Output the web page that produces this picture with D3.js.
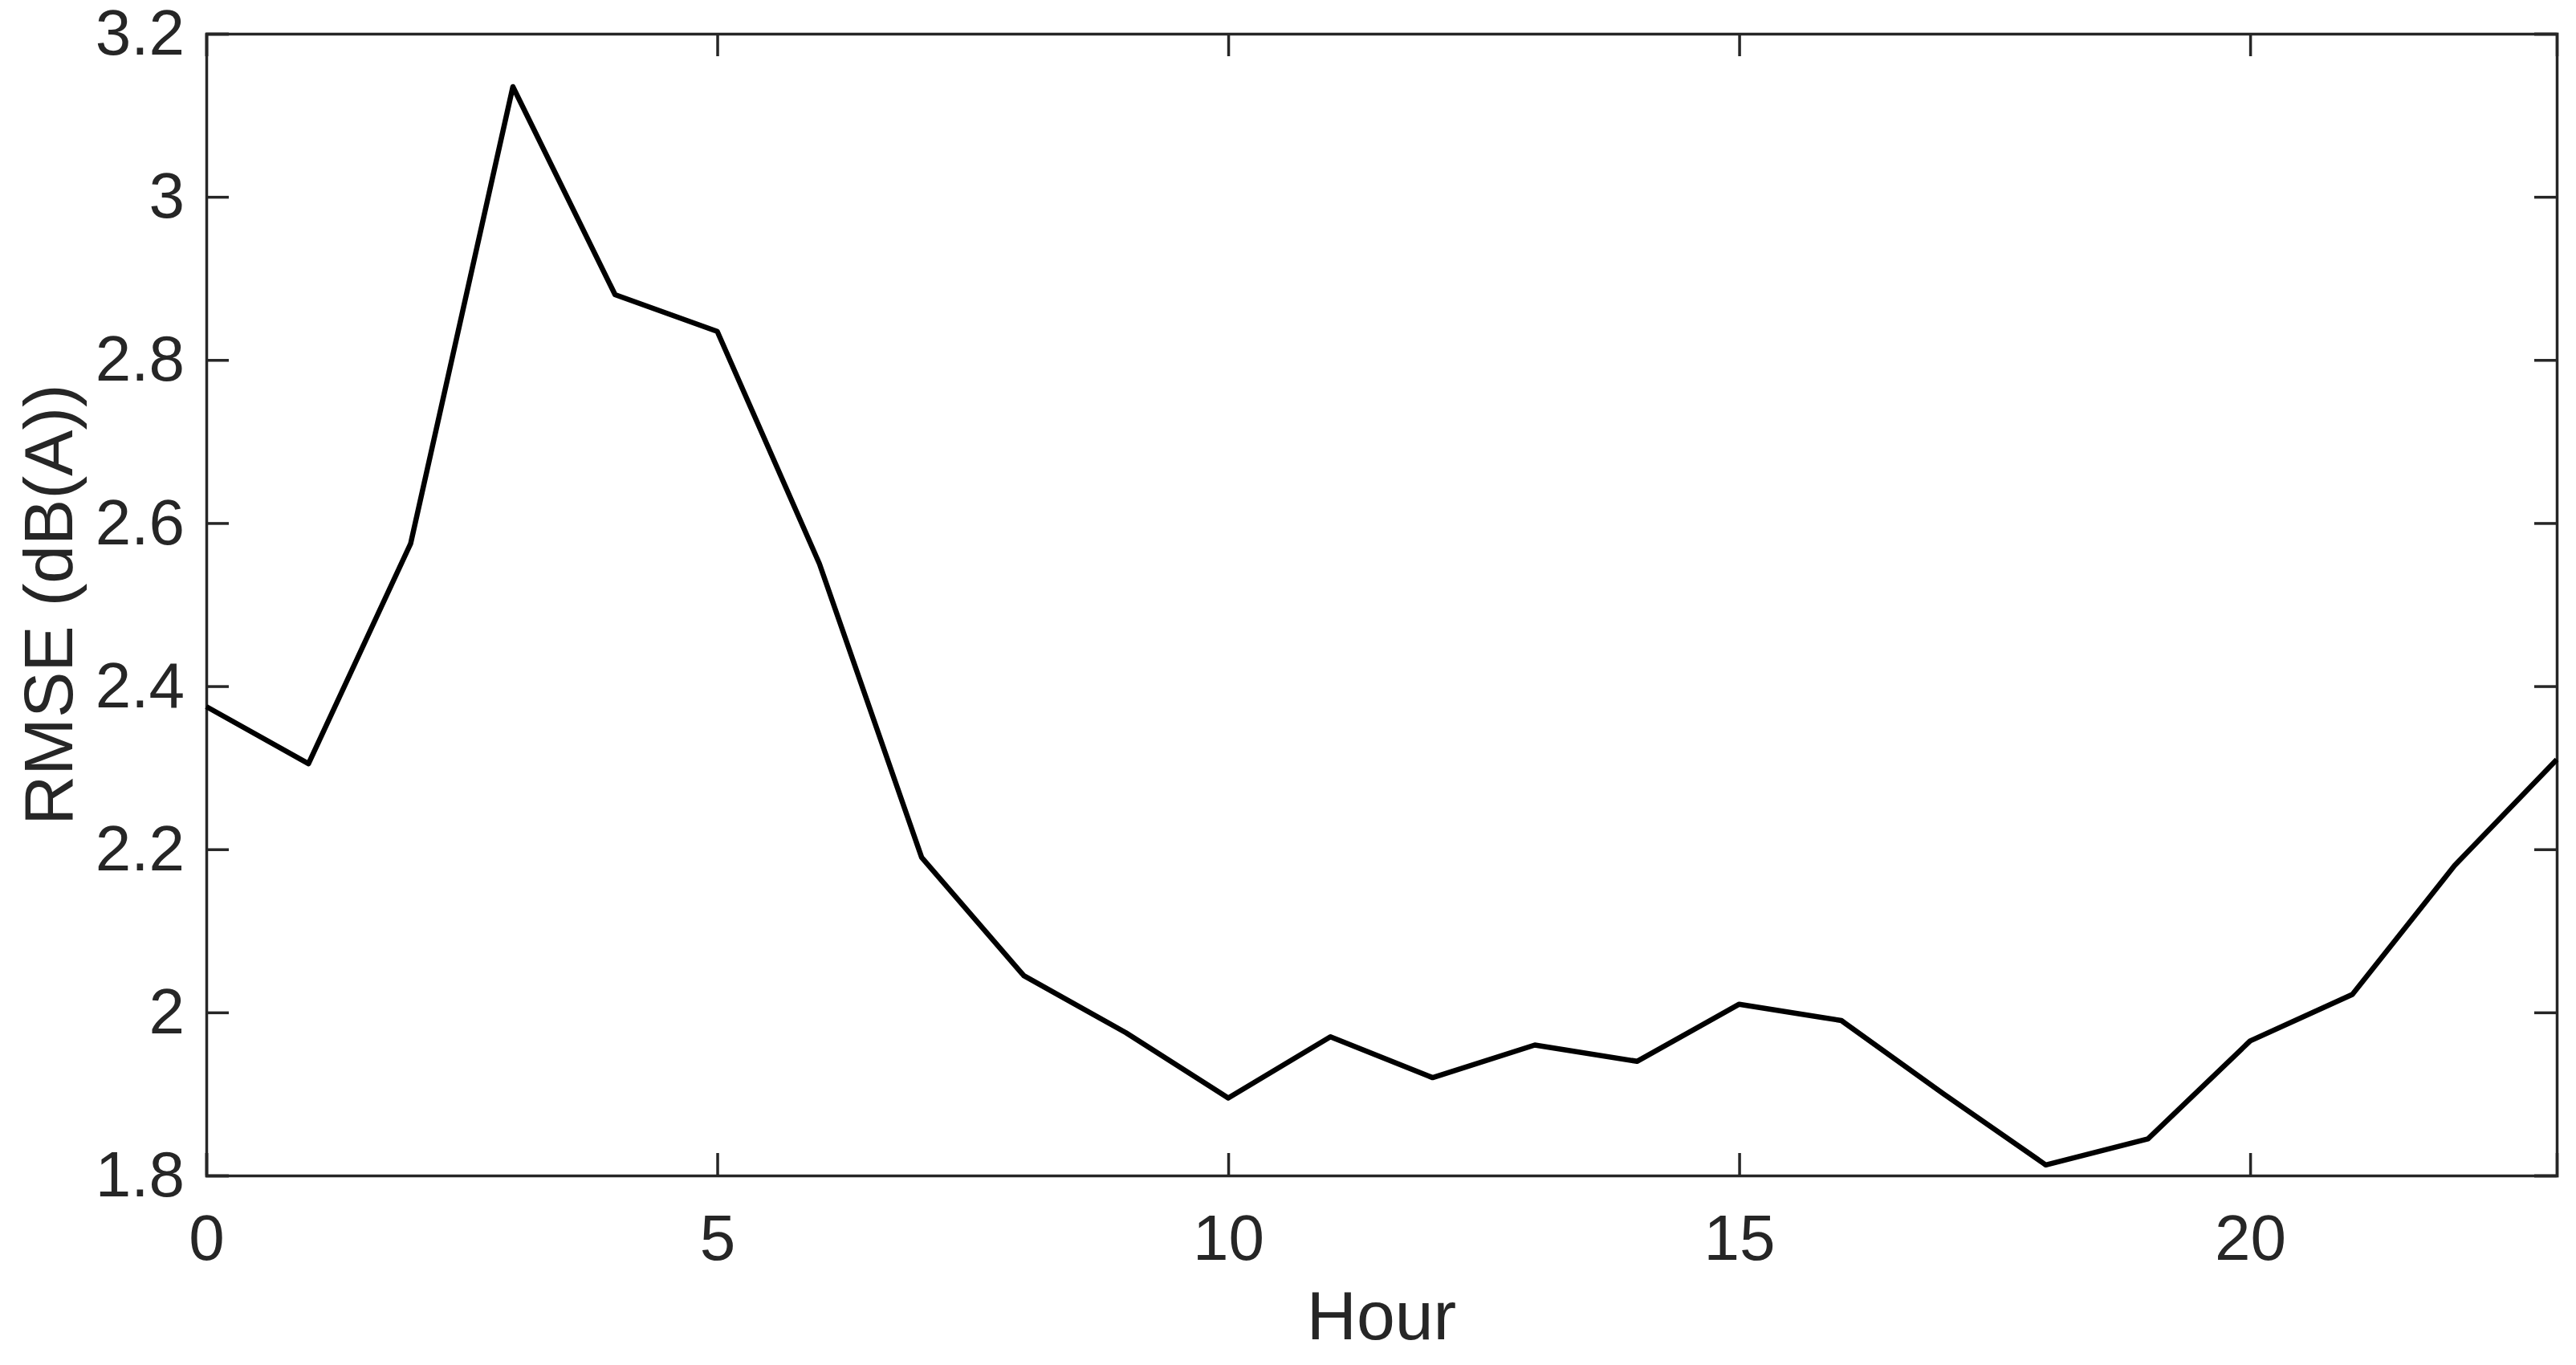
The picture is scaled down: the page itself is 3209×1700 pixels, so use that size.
<!DOCTYPE html>
<html><head><meta charset="utf-8">
<script src="https://cdn.jsdelivr.net/npm/d3@7"></script>
<style>body{margin:0;background:#fff}text{font-family:Arial,"Liberation Sans",sans-serif;fill:#262626}</style>
</head><body>
<svg id="c" width="3209" height="1700"></svg>
<script>
const hours = d3.range(0,24);
const rmse = [2.375,2.305,2.575,3.135,2.88,2.835,2.55,2.19,2.045,1.975,1.895,1.97,1.92,1.96,1.94,2.01,1.99,1.9,1.813,1.845,1.965,2.022,2.18,2.31];
const xTicks = [0,5,10,15,20];
const yTicks = [1.8,2,2.2,2.4,2.6,2.8,3,3.2];
const L=257,R=3185,T=42,B=1464;
const svg=d3.select("#c");
const x=d3.scaleLinear().domain([0,23]).range([L,R]);
const y=d3.scaleLinear().domain([1.8,3.2]).range([B,T]);
const col="#262626";
const gx=svg.append("g").attr("transform",`translate(0,${B})`)
 .call(d3.axisBottom(x).tickValues(xTicks).tickFormat(d3.format("d")).tickSize(-28).tickPadding(48));
const gy=svg.append("g").attr("transform",`translate(${L},0)`)
 .call(d3.axisLeft(y).tickValues(yTicks).tickFormat(d=>d3.format("~g")(d)).tickSize(-28).tickPadding(27));
const gx2=svg.append("g").attr("transform",`translate(0,${T})`)
 .call(d3.axisTop(x).tickValues(xTicks).tickFormat("").tickSize(-28));
const gy2=svg.append("g").attr("transform",`translate(${R},0)`)
 .call(d3.axisRight(y).tickValues(yTicks).tickFormat("").tickSize(-28));
[gx,gy,gx2,gy2].forEach(g=>{g.selectAll("path,line").attr("stroke",col).attr("stroke-width",3.5);g.selectAll("text").attr("font-size",80).attr("fill",col);});
svg.append("path").datum(rmse)
 .attr("d",d3.line().x((d,i)=>x(hours[i])).y(d=>y(d)))
 .attr("fill","none").attr("stroke","#000").attr("stroke-width",6.5).attr("stroke-linejoin","round");
svg.append("text").attr("x",(L+R)/2).attr("y",1668).attr("text-anchor","middle").attr("font-size",86).text("Hour");
svg.append("text").attr("transform",`translate(90,${(T+B)/2}) rotate(-90)`).attr("text-anchor","middle").attr("font-size",86).text("RMSE (dB(A))");
</script></body></html>
